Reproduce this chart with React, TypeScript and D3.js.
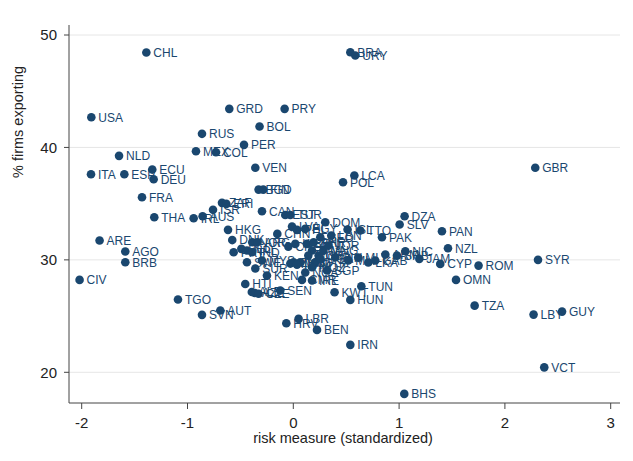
import React from "react";
import * as d3 from "d3";

const countries = ["CHL","BRA","URY","USA","GRD","PRY","BOL","RUS","PER","MEX","COL","NLD","ITA","ESP","ECU","DEU","FRA","THA","IRL","AUS","ISR","ZAF","ERI","CAN","VEN","BGD","FIN","POL","LCA","EST","TUR","DOM","DZA","SLV","PAN","PAK","ISL","TTO","HKG","LVA","PHL","EGY","CHN","DNK","NOR","ARG","PRT","BEL","NPL","IND","SWE","MYS","SUR","KEN","HTI","ALB","AZE","CZE","SEN","KAZ","BRN","BHR","GEO","LBN","BWA","GHA","MUS","MNG","JOR","GTM","UGA","BIH","HND","ZMB","MWI","MKD","MOZ","SGP","CMR","IRE","MLI","MLT","LKA","GAB","ARM","SRB","NIC","JAM","CHE","KWT","TUN","HUN","LBR","HRV","BEN","IRN","BHS","AUT","SVN","TGO","CIV","ARE","AGO","BRB","GBR","SYR","ROM","CYP","NZL","OMN","TZA","LBY","GUY","VCT","NGA"];

const riskValues = [-1.389,0.539,0.586,-1.909,-0.605,-0.082,-0.319,-0.863,-0.466,-0.920,-0.731,-1.647,-1.912,-1.597,-1.333,-1.320,-1.430,-1.314,-0.942,-0.857,-0.759,-0.674,-0.633,-0.296,-0.359,-0.328,-0.284,0.470,0.577,-0.076,-0.028,0.302,1.052,1.005,1.405,0.838,0.513,0.633,-0.617,-0.012,0.035,0.113,-0.151,-0.577,-0.388,-0.340,-0.564,-0.491,-0.438,-0.390,-0.438,-0.296,-0.359,-0.249,-0.454,-0.392,-0.364,-0.328,-0.123,0.019,0.129,0.192,0.255,0.359,0.177,0.239,0.142,0.284,0.331,0.208,0.255,0.397,0.066,0.003,-0.028,0.035,0.177,0.319,0.082,0.177,0.520,0.614,0.709,0.775,0.870,0.980,1.059,1.191,-0.047,0.390,0.643,0.539,0.050,-0.066,0.224,0.539,1.049,-0.690,-0.863,-1.090,-2.020,-1.831,-1.588,-1.588,2.287,2.313,1.751,1.389,1.462,1.538,1.714,2.271,2.540,2.372,0.113];

const exportShares = [48.44,48.47,48.18,42.69,43.43,43.43,41.86,41.21,40.23,39.66,39.57,39.25,37.62,37.62,38.03,37.17,35.57,33.79,33.70,33.88,34.45,35.07,34.98,34.32,38.19,36.25,36.25,36.90,37.50,33.99,33.99,33.35,33.88,33.14,32.54,32.01,32.70,32.61,32.67,32.96,32.67,32.76,32.31,31.76,31.57,31.57,30.68,30.98,30.83,30.68,29.79,29.94,29.23,28.60,27.86,27.14,27.05,26.98,27.27,31.42,31.42,31.57,32.01,32.16,30.83,30.38,30.38,30.83,31.27,29.79,30.09,30.23,29.79,29.79,29.67,29.58,29.34,29.05,28.22,28.16,29.94,30.20,29.76,29.94,30.47,30.38,30.77,30.09,31.18,27.12,27.65,26.44,24.75,24.36,23.77,22.44,18.08,25.49,25.11,26.47,28.22,31.72,30.74,29.79,38.19,30.00,29.49,29.64,31.03,28.22,25.93,25.13,25.40,20.44,28.87];

const xTicks = [-2, -1, 0, 1, 2, 3];
const yTicks = [20, 30, 40, 50];
const xTitle = "risk measure (standardized)";
const yTitle = "% firms exporting";

const W = 633, H = 461;
const plotLeft = 69, plotRight = 620, plotTop = 25, plotBottom = 403;
const navy = "#1a476f";
const font = "Liberation Sans, Arial, sans-serif";

export default function App() {
  const x = d3.scaleLinear().domain([-2, 3]).range([81.7, 610.7]);
  const y = d3.scaleLinear().domain([20, 50]).range([372.3, 35]);
  const pts = countries.map((c, i) => ({ c, x: riskValues[i], y: exportShares[i] }));
  return (
    <svg width={W} height={H} style={{ position: "absolute", left: 0, top: 0, background: "#fff" }} fontFamily={font}>
      <rect x={0} y={0} width={W} height={H} fill="#fff" />
      {yTicks.map((t) => (
        <line key={"g" + t} x1={plotLeft} x2={plotRight} y1={y(t)} y2={y(t)} stroke="#e6e6e6" strokeWidth={1} />
      ))}
      <line x1={plotLeft} x2={plotLeft} y1={plotTop} y2={plotBottom} stroke="#444" strokeWidth={1} />
      <line x1={plotLeft} x2={plotRight} y1={plotBottom} y2={plotBottom} stroke="#444" strokeWidth={1} />
      {yTicks.map((t) => (
        <g key={"y" + t}>
          <line x1={plotLeft - 5} x2={plotLeft} y1={y(t)} y2={y(t)} stroke="#444" />
          <text x={plotLeft - 12} y={y(t)} dy="0.35em" textAnchor="end" fontSize={15} fill="#222">{t}</text>
        </g>
      ))}
      {xTicks.map((t) => (
        <g key={"x" + t}>
          <line x1={x(t)} x2={x(t)} y1={plotBottom} y2={plotBottom + 6} stroke="#444" />
          <text x={x(t)} y={428} textAnchor="middle" fontSize={15} fill="#222">{t}</text>
        </g>
      ))}
      <text x={343} y={443} textAnchor="middle" fontSize={14.5} fill="#222">{xTitle}</text>
      <text transform={`translate(23,122) rotate(-90)`} textAnchor="middle" fontSize={14.5} fill="#222">{yTitle}</text>
      {pts.map((p) => (
        <circle key={"c" + p.c} cx={x(p.x)} cy={y(p.y)} r={4.3} fill={navy} />
      ))}
      {pts.map((p) => (
        <text key={"t" + p.c} x={x(p.x) + 7} y={y(p.y)} dy="0.36em" fontSize={12} fill={navy}>{p.c}</text>
      ))}
    </svg>
  );
}
